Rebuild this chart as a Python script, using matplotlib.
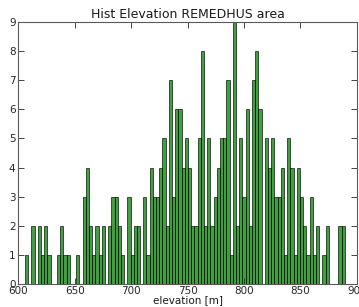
import numpy as np
import matplotlib
matplotlib.use("Agg")
import matplotlib.pyplot as plt

# histogram counts (100 bins)
counts = [1, 0, 2, 0, 2, 1, 2, 1, 0, 0,
          1, 2, 1, 1, 0, 0, 1, 0, 3, 4,
          2, 1, 2, 1, 2, 0, 2, 3, 3, 2,
          1, 0, 3, 1, 2, 2, 0, 3, 1, 4,
          3, 3, 4, 5, 2, 7, 3, 6, 6, 4,
          5, 4, 2, 2, 5, 8, 2, 5, 2, 3,
          4, 5, 5, 7, 1, 9, 2, 5, 3, 6,
          2, 7, 8, 6, 0, 5, 4, 5, 3, 3,
          4, 1, 5, 4, 1, 4, 3, 2, 1, 3,
          1, 2, 0, 1, 2, 0, 0, 0, 2, 2]
elev_min, elev_max = 605.9, 889.3
edges = np.linspace(elev_min, elev_max, len(counts) + 1)

xticks = [600, 650, 700, 750, 800, 850, 900]
yticks = list(range(0, 10))

fig = plt.figure(figsize=(3.59, 3.07), dpi=100)
ax = fig.add_axes([0.051, 0.074, 0.943, 0.855])

ax.hist(edges[:-1], bins=edges, weights=counts, color="green", alpha=0.75,
        edgecolor="black", linewidth=0.6)

ax.set_xlim(600, 900)
ax.set_ylim(0, 9)
ax.set_xticks(xticks)
ax.set_yticks(yticks)
ax.tick_params(direction="in", top=True, right=True, length=4, width=0.6,
               labelsize=7.5, pad=2, colors="0.15")
ax.tick_params(axis="x", pad=1.5)
for s in ax.spines.values():
    s.set_color("0.35")
    s.set_linewidth(0.8)

ax.set_title("Hist Elevation REMEDHUS area", fontsize=9, pad=3, color="0.1")
ax.set_xlabel("elevation [m]", fontsize=7.5, labelpad=-1, color="0.1")

fig.savefig("out.png", dpi=100, facecolor="white")
